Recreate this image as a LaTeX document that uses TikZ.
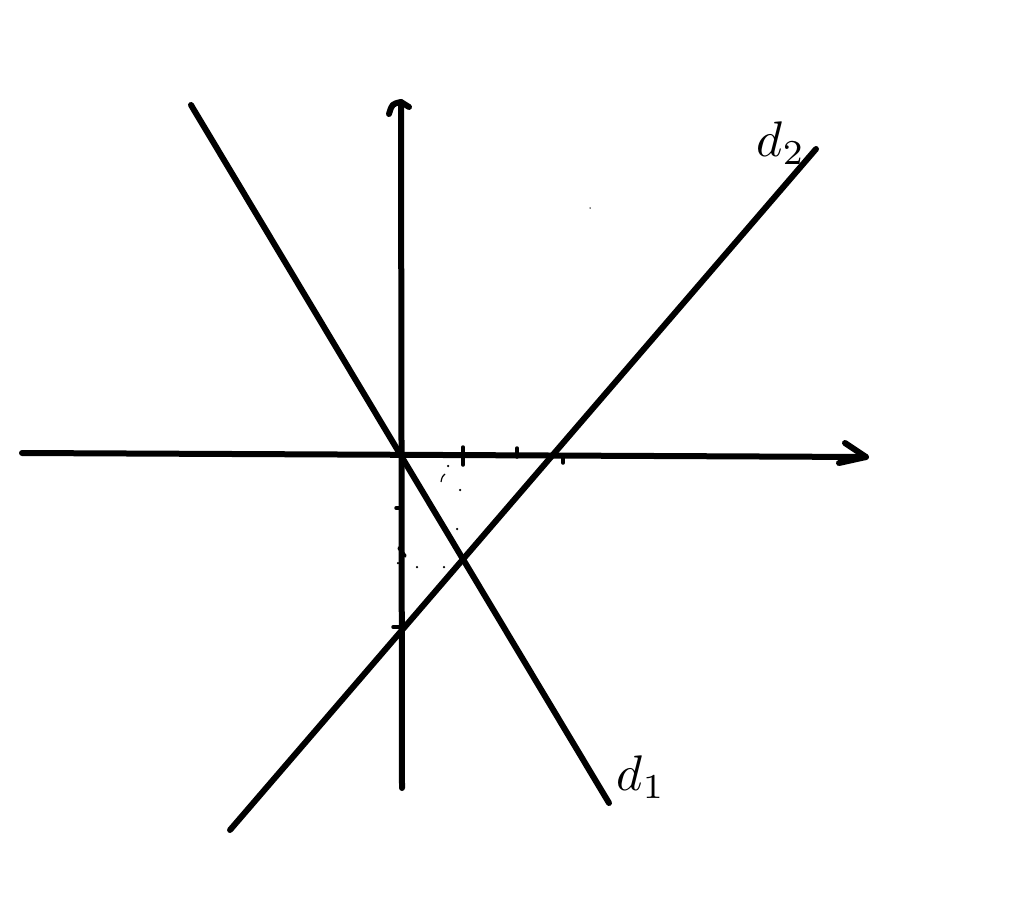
\documentclass[tikz,border=0pt]{standalone}
\begin{document}
\begin{tikzpicture}[x=1pt,y=-1pt,
  stroke/.style={line width=6pt,line cap=round,line join=round},
  thin stroke/.style={line width=3.5pt,line cap=round,line join=round},
  dotmark/.style={fill=black,inner sep=0pt,minimum size=2.5pt,circle},
  lbl/.style={inner sep=0pt}]
\useasboundingbox[fill=white] (0,0) rectangle (1024,915);
% axes
\coordinate (xl) at (22,453);
\coordinate (xr) at (866,457);
\coordinate (yb) at (402,788);
\coordinate (yt) at (401,102);
\draw[stroke] (xl) -- (xr);
\draw[stroke] (yb) -- (yt);
% arrow tips (hand drawn)
\coordinate (xa1) at (845,443);
\coordinate (xa2) at (839,463);
\draw[stroke] (xa1) -- (xr) -- (xa2);
\coordinate (ya1) at (389,114);
\coordinate (ya2) at (409,107);
\draw[stroke] (ya1) .. controls (392,104) .. (yt) -- (ya2);
% lines
\coordinate (d1a) at (191,105);
\coordinate (d1b) at (609,803);
\coordinate (d2a) at (230,830);
\coordinate (d2b) at (816,149);
\draw[stroke] (d1a) -- (d1b);
\draw[stroke] (d2a) -- (d2b);
% ticks on x axis
\draw[thin stroke] (463,447) -- (463,465);
\draw[thin stroke] (517,448) -- (517,457);
\draw[thin stroke] (563,456) -- (563,463);
% ticks on y axis
\draw[thin stroke] (396,508) -- (401,508);
\draw[thin stroke] (399,548) -- (405,556);
\draw[thin stroke] (393,627) -- (401,627);
% faint dotted marks
\node[dotmark] (p1) at (448,466) {};
\draw[line width=1.2pt] (441,482) .. controls (442,477) .. (445,474);
\node[dotmark] (p2) at (460,490) {};
\node[dotmark] (p3) at (457,529) {};
\node[dotmark] (p4) at (417,567) {};
\node[dotmark] (p5) at (444,567) {};
\node[dotmark] (p6) at (398,563) {};
\node[dotmark,minimum size=1.5pt] (p7) at (590,208) {};
% labels
\node[lbl] (l2) at (781,143) {\scalebox{5}{$d_2$}};
\node[lbl] (l1) at (641,777) {\scalebox{5}{$d_1$}};
\end{tikzpicture}
\end{document}
